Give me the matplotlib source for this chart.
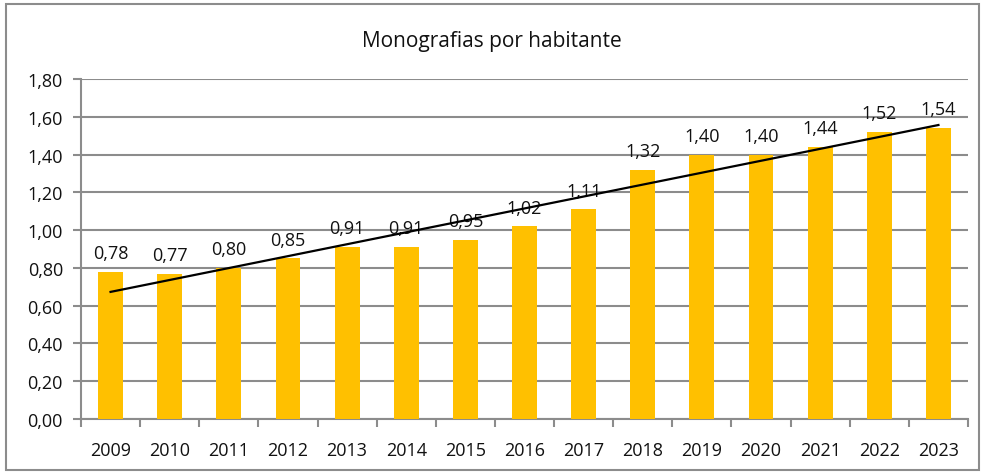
import matplotlib.pyplot as plt
import numpy as np
from matplotlib.patches import Rectangle

years = ['2009', '2010', '2011', '2012', '2013', '2014', '2015', '2016',
         '2017', '2018', '2019', '2020', '2021', '2022', '2023']
values = [0.78, 0.77, 0.80, 0.85, 0.91, 0.91, 0.95, 1.02,
          1.11, 1.32, 1.40, 1.40, 1.44, 1.52, 1.54]
title = 'Monografias por habitante'

plt.rcParams['font.family'] = ['Open Sans', 'DejaVu Sans']

fig = plt.figure(figsize=(9.84, 4.77), dpi=100)
ax = fig.add_axes([81 / 984, 57 / 477, 887 / 984, 340 / 477])

x = np.arange(len(years))
ax.bar(x, values, width=0.42, color='#FFC000', zorder=3)

# labels above bars, comma decimals
for xi, v in zip(x, values):
    ax.annotate(f'{v:.2f}'.replace('.', ','), xy=(xi, v), xytext=(0, 7),
                textcoords='offset points', ha='center', va='bottom',
                fontsize=13, color='#111111', zorder=4)

# linear trendline
slope, intercept = np.polyfit(x, values, 1)
ax.plot(x, slope * x + intercept, color='black', lw=1.6, zorder=5)

ax.set_xlim(-0.5, len(years) - 0.5)
ax.set_ylim(0, 1.8)
yt = np.arange(0, 1.81, 0.2)
ax.set_yticks(yt)
ax.set_yticklabels([f'{t:.2f}'.replace('.', ',') for t in yt], fontsize=13,
                   color='#111111')
ax.grid(axis='y', color='#8c8c8c', lw=1.5, zorder=0)

ax.set_xticks(x)
ax.set_xticklabels(years, fontsize=13, color='#111111')
ax.set_xticks(np.arange(-0.5, len(years), 1), minor=True)
ax.tick_params(axis='x', which='major', length=0, pad=16)
ax.tick_params(axis='x', which='minor', length=6, width=1.5, color='#8c8c8c')
ax.tick_params(axis='y', length=6, width=1.5, color='#8c8c8c', pad=7)

for s in ['top', 'right']:
    ax.spines[s].set_visible(False)
for s in ['left', 'bottom']:
    ax.spines[s].set_color('#8c8c8c')
    ax.spines[s].set_linewidth(1.5)

fig.text(0.5, 1 - 42 / 477, title, ha='center', va='center', fontsize=15,
         color='#111111')

fig.patches.append(Rectangle((6 / 984, 6 / 477), 973 / 984, 466 / 477,
                             transform=fig.transFigure, fill=False,
                             edgecolor='#8c8c8c', lw=1.5))

fig.savefig('out.png', dpi=100)
